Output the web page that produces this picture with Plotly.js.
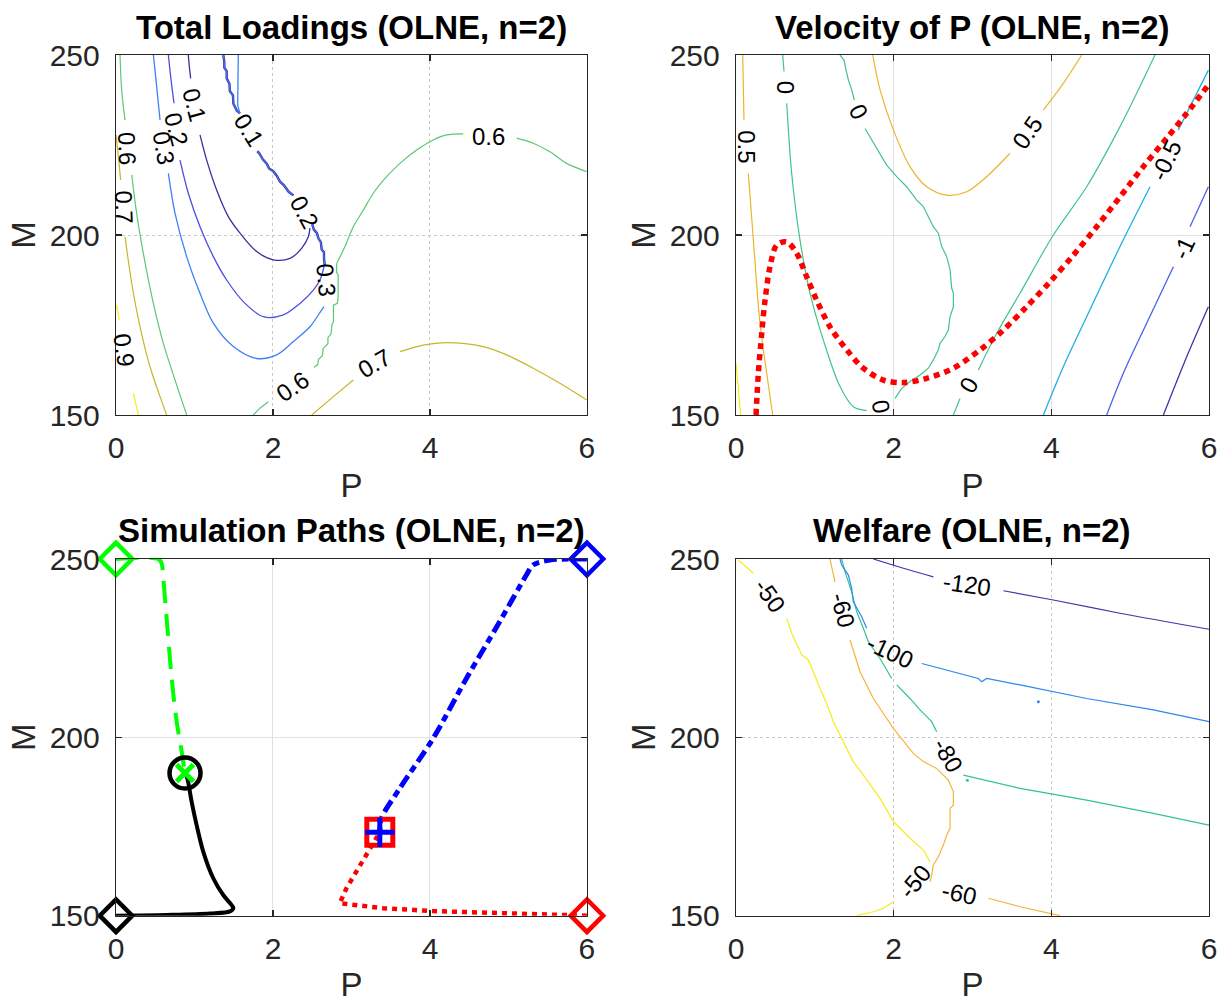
<!DOCTYPE html>
<html><head><meta charset="utf-8">
<script src="https://cdn.plot.ly/plotly-3.0.1.min.js"></script>
<style>html,body{margin:0;padding:0;background:#fff}#chart{width:1220px;height:1003px}</style>
</head><body><div id="chart"></div>
<script>
// ---------- axes ----------
const pTicks = [0, 2, 4, 6];
const mTicks = [150, 200, 250];
const titles = ['Total Loadings (OLNE, n=2)', 'Velocity of P (OLNE, n=2)', 'Simulation Paths (OLNE, n=2)', 'Welfare (OLNE, n=2)'];

// ---------- Total Loadings contours (P, M) ----------
const tl01P = [0.921,0.934,0.951,null,1.070,1.155,1.282,1.431,1.580,1.792,2.004,2.217,2.365,2.450,2.471];
const tl01M = [250,246.8,243.5,null,227.8,220.8,212.5,205.1,200.5,195.4,193.1,193.5,196.3,199.5,201.9];
const tl02P = [0.667,0.701,0.739,null,0.815,0.921,1.070,1.240,1.410,1.622,1.877,2.132,2.344,2.514,2.599,2.650];
const tl02M = [250,243.1,236.6,null,220.8,211.6,202.3,194.0,187.5,181.5,177.3,177.8,181.0,184.7,187.5,191.2];
const tl03P = [0.476,0.518,0.561,null,0.667,0.752,0.900,1.070,1.240,1.495,1.792,2.047,2.259,2.471,2.620,2.650];
const tl03M = [250,241.2,231.9,null,217.1,206.0,194.0,183.8,175.5,169.0,165.7,166.7,170.4,174.5,179.2,180.1];
const tlJumpP = [1.367,1.380,1.380,1.410,1.410,1.445,1.450,1.490,1.495,1.540,1.580,null,1.800,1.830,1.870,1.920,1.950,2.000,2.050,2.090,2.140,2.200,2.260,null,2.500,2.520,2.560,2.580,2.610,2.620,2.650,2.650,2.660];
const tlJumpM = [250,248,246.5,245.5,243.5,242,240,238.8,236.5,234.5,233.8,null,223.3,222.5,221.0,219.8,218.5,217.8,216.4,214.8,213.8,212.0,211.0,null,203.0,201.5,200.5,199.0,198.0,196.0,195.2,193.5,191.5];
const tlJumpTopP = [1.558,1.553,1.550,1.580];
const tlJumpTopM = [250,243,236,233.8];
const tl06P = [0.051,0.072,0.115,null,0.200,0.263,0.348,0.476,0.603,0.752,0.900,null,5.996,5.741,5.529,5.316,5.104,null,4.425,4.212,4.042,3.830,3.618,3.448,3.278,3.151,3.023,2.917,2.811];
const tl06M = [250,240.3,231.9,null,216.7,206.0,194.9,181.0,169.9,159.7,150,null,217.6,219.9,223.1,225.5,226.9,null,228.1,227.8,226.4,223.6,219.9,216.2,211.6,206.9,202.3,196.8,192.1];
const tl06JumpP = [2.811,2.811,2.830,2.830,2.820,2.770,2.770,2.750,2.740,2.700,2.700,2.640,2.630,2.580,2.570,2.520,null,1.941,1.834,1.749];
const tl06JumpM = [192.1,189.5,189.0,183.0,181.0,180.5,176.0,175.0,172.5,171.5,169.8,168.5,166.5,165.5,164.0,163.2,null,153.7,151.9,150];
const tl07P = [0.000,0.030,0.059,null,0.115,0.200,0.306,0.433,0.561,0.645,null,5.996,5.656,5.316,4.977,4.679,4.212,3.915,3.618,null,3.023,2.769,2.493];
const tl07M = [227.8,221.8,215.3,null,199.5,186.6,174.5,163.4,155.1,150,null,154.2,158.8,163.0,166.7,169.0,170.1,169.4,167.6,null,159.7,155.1,150];
const tl09P = [0.008,0.042,null,0.221,0.285];
const tl09M = [180.6,176.4,null,156.0,150];
const tlLabText = ['0.1','0.2','0.3','0.1','0.2','0.3','0.6','0.6','0.7','0.6','0.7','0.9'];
const tlLabP = [1.006,0.773,0.611,1.686,2.395,2.684,4.752,2.251,3.287,0.144,0.102,0.102];
const tlLabM = [236.1,229.4,224.1,229.2,206.5,187.5,227.5,157.9,164.2,224.1,207.9,168.2];

// ---------- Velocity of P contours ----------
const v1P = [0,0.059];
const v1M = [164.4,150];
const v05P = [0.085,0.101,null,0.156,0.220,0.304,0.389,0.465,null,1.734,1.827,1.996,2.207,2.419,2.672,2.926,3.180,3.476,null,3.899,4.152,4.385];
const v05M = [250,231.9,null,217.1,198.6,175.5,161.6,150,null,250,240.3,229.2,219.0,213.4,211.1,212.0,216.2,222.7,null,234.7,242.1,250];
const v0P = [0.592,0.609,null,0.643,0.706,0.812,0.939,1.108,1.319,1.488,1.658,null,5.315,4.871,4.448,4.025,3.602,3.307,3.074,null,2.841,2.757];
const v0M = [250,245.4,null,236.6,217.1,198.6,183.8,170.8,157.9,152.3,151.2,null,250,230.1,213.4,200,183.8,172.7,162.5,null,154.6,150];
const v0JumpP = [1.319,1.370,1.395,1.425,1.467,1.488,1.501,null,1.636,1.700,1.742,1.827,1.911,2.038,2.165,2.292,2.376,2.440,2.503,2.567,2.609,2.672,2.715,2.736,2.757,2.757,2.715,2.693,2.651,2.588,2.567,2.503,2.440,2.334,2.207,2.101,2.017];
const v0JumpM = [250,248.6,245.8,243.1,240.3,238.9,237.5,null,229.6,227.3,225.5,222.7,219.4,216.2,213.4,209.7,207.9,205.1,202.3,200.5,196.8,194.0,190.3,185.2,183.8,180.1,177.3,173.6,171.8,169.9,168.1,165.3,163.0,161.1,159.3,157.4,154.6];
const vm05P = [5.992,5.611,null,5.252,4.871,4.448,4.152,3.899];
const vm05M = [245.8,229.2,null,213.4,196.8,177.3,163.4,150];
const vm1P = [5.992,5.759,null,5.548,5.209,4.913,4.702];
const vm1M = [213.4,202.3,null,191.2,175.5,161.6,150];
const vm15P = [5.992,5.717,5.421];
const vm15M = [180.1,166.2,150];
const vNullP = [0.254,0.283,0.326,0.368,0.431,0.516,0.643,0.770,0.896,1.023,1.192,1.404,1.615,1.869,2.123,2.419,2.757,3.095,3.391,3.687,3.983,4.279,4.575,4.871,5.167,5.463,5.717,5.992];
const vNullM = [150,161.6,172.7,181.9,191.2,197.2,198.1,194.9,188.4,181.9,174.5,168.1,163.0,159.7,159.0,160.2,163.0,168.1,173.6,180.1,187.0,194.4,202.3,210.6,219.0,226.9,233.8,241.7];
const vLabText = ['0.5','0','0','0.5','-0.5','-1','0','0'];
const vLabP = [0.135,0.622,1.552,3.696,5.450,5.674,2.947,1.835];
const vLabM = [224.5,241.2,234.3,228.4,220.8,196.3,158.3,152.3];

// ---------- Simulation paths ----------
const pathGreenP = [0,0.539,0.581,0.602,0.645,0.709,0.772,0.836,0.879];
const pathGreenM = [250,250,248.8,244.6,233.4,216.6,204.5,196.1,190.0];
const pathBlackP = [0,0.645,1.197,1.451,1.494,1.472,1.366,1.239,1.112,1.027,0.963,0.908,0.879];
const pathBlackM = [150,150.2,150.6,151.2,152.1,153.0,155.8,160.5,167.9,175.4,182.0,188.5,190.0];
const pathBlueP = [6,5.525,5.312,5.228,4.888,4.464,4.040,3.615,3.382,3.361];
const pathBlueM = [250,249.7,248.3,245.5,232.4,216.5,199.7,185.7,177.3,173.4];
const pathRedP = [6,4.888,4.040,3.403,2.851,2.936,3.106,3.276,3.361];
const pathRedM = [150,150.6,151.3,152.1,153.5,157.7,164.2,170.7,173.4];

// ---------- Welfare contours ----------
const w50P = [0.030,0.220,null,0.643,0.706,0.833,0.918,1.066,1.150,1.235,1.488,1.615,1.827,1.996,2.207,2.376,2.461,null,1.996,1.869,1.742,1.531];
const w50M = [249.7,246.0,null,233.4,229.2,223.1,221.7,213.7,209.5,204.4,193.2,189.4,182.9,176.4,171.7,168.4,165.1,null,153.9,152.1,151.1,150];
const w60P = [1.192,1.256,null,1.446,1.573,1.742,1.996,2.249,2.376,2.545,2.693,2.757,2.757,2.715,2.715,2.672,2.630,2.567,2.503,2.482,2.461,null,3.201,3.603,4.110];
const w60M = [250,243.6,null,227.3,218.4,210.9,202.5,195.5,193.2,191.3,188.0,184.8,181.0,180.1,174.5,172.6,169.8,166.5,164.2,161.4,159.5,null,154.9,152.5,150];
const w80P = [1.340,1.383,1.467,1.531,1.615,1.679,1.827,1.975,null,2.038,2.207,2.334,2.482,2.545,null,2.884,3.603,4.448,5.294,6.0];
const w80M = [250,246.4,240.8,235.2,230.6,226.8,222.1,216.5,null,214.7,210.9,207.7,204.4,201.6,null,189.4,185.7,182.4,178.7,175.4];
const w100P = [1.319,1.340,1.425,1.467,1.488,1.531,1.594,1.658,null,2.355,2.757,3.074,3.116,3.159,3.180,3.603,4.448,5.294,6.0];
const w100M = [250,248.3,245.5,241.8,238.0,236.2,233.8,230.6,null,220.7,218.4,216.5,215.6,216.1,216.5,214.7,210.9,207.7,204.4];
const w120P = [1.742,2.123,2.503,null,3.391,4.025,4.871,6.0];
const w120M = [250,247.4,245.0,null,241.1,238.5,234.8,230.3];
const wSpeckP = [3.835,2.934];
const wSpeckM = [210.0,188.0];
const wLabText = ['-50','-60','-100','-120','-80','-50','-60'];
const wLabP = [0.431,1.362,1.953,2.926,2.693,2.271,2.841];
const wLabM = [239.9,235.7,224.0,242.9,195.0,159.5,156.3];

// ================= rendering =================
const FONT = 'Liberation Sans, Arial, Helvetica, sans-serif';
const AXC = '#262626';
const xd = [[0.0951, 0.4811], [0.6033, 0.9910]];
const yd = [[0.58624, 0.94516], [0.08704, 0.44267]];

function xAxis(dom, anchor, dotted) {
  return {domain: dom, anchor: anchor, range: [0, 6], tickvals: pTicks, showline: true, mirror: 'allticks',
    linecolor: AXC, linewidth: 1.3, ticks: 'inside', ticklen: 6, tickwidth: 1.2, tickcolor: AXC,
    showgrid: true, gridcolor: dotted ? '#c8c8c8' : '#e1e1e1', griddash: dotted ? 'dot' : 'solid', gridwidth: 1,
    zeroline: false, tickfont: {family: FONT, size: 30, color: AXC}, ticklabelstandoff: 6,
    title: {text: 'P', font: {family: FONT, size: 33, color: AXC}, standoff: 10}, fixedrange: true};
}
function yAxis(dom, anchor, dotted) {
  return {domain: dom, anchor: anchor, range: [150, 250], tickvals: mTicks, showline: true, mirror: 'allticks',
    linecolor: AXC, linewidth: 1.3, ticks: 'inside', ticklen: 6, tickwidth: 1.2, tickcolor: AXC,
    showgrid: true, gridcolor: dotted ? '#c8c8c8' : '#e1e1e1', griddash: dotted ? 'dot' : 'solid', gridwidth: 1,
    zeroline: false, tickfont: {family: FONT, size: 30, color: AXC}, ticklabelstandoff: 9,
    title: {text: 'M', font: {family: FONT, size: 33, color: AXC}, standoff: 4}, fixedrange: true};
}

const traces = [];
function ln(x, y, color, width, ax, opts) {
  opts = opts || {};
  traces.push({type: 'scatter', mode: 'lines', x: x, y: y, xaxis: 'x' + ax, yaxis: 'y' + ax,
    line: {color: color, width: width, shape: opts.shape || 'spline', smoothing: 0.9, dash: opts.dash || 'solid'},
    connectgaps: false, hoverinfo: 'skip', showlegend: false});
}
function mk(x, y, symbol, size, color, lw, ax) {
  traces.push({type: 'scatter', mode: 'markers', x: x, y: y, xaxis: 'x' + ax, yaxis: 'y' + ax, cliponaxis: false,
    marker: {symbol: symbol, size: size, color: color, line: {color: color, width: lw}},
    hoverinfo: 'skip', showlegend: false});
}

// Plot 1: Total Loadings
ln(tl09P, tl09M, '#f7ee1c', 1.2, '');
ln(tl07P, tl07M, '#c9b42c', 1.2, '');
ln(tl06P, tl06M, '#5cc873', 1.2, '');
ln(tl06JumpP, tl06JumpM, '#5cc873', 1.2, '', {shape: 'linear'});
ln(tl03P, tl03M, '#3c82f5', 1.3, '');
ln(tl02P, tl02M, '#4b4fe0', 1.3, '');
ln(tl01P, tl01M, '#3d2ea0', 1.3, '');
ln(tlJumpP, tlJumpM, '#3d2ea0', 2.4, '', {shape: 'linear'});
ln(tlJumpP, tlJumpM, '#3f74f3', 1.2, '', {shape: 'linear'});
ln(tlJumpTopP, tlJumpTopM, '#3c82f5', 1.3, '', {shape: 'linear'});

// Plot 2: Velocity of P
ln(v1P, v1M, '#f4ef12', 1.2, '2');
ln(v05P, v05M, '#ebb52f', 1.2, '2');
ln(v0P, v0M, '#40c48a', 1.2, '2');
ln(v0JumpP, v0JumpM, '#40c48a', 1.2, '2', {shape: 'linear'});
ln(vm05P, vm05M, '#1fb0e2', 1.3, '2');
ln(vm1P, vm1M, '#4a60ef', 1.3, '2');
ln(vm15P, vm15M, '#4231a8', 1.3, '2');
ln(vNullP, vNullM, '#ff0000', 5.5, '2', {dash: '6px,5px'});

// Plot 3: Simulation paths
ln(pathGreenP, pathGreenM, '#00ff00', 4, '3', {dash: '22px,11px'});
ln(pathBlackP, pathBlackM, '#000000', 4, '3');
ln(pathBlueP, pathBlueM, '#0000ff', 5, '3', {dash: '13px,5px,7px,5px'});
ln(pathRedP, pathRedM, '#ff0000', 4.5, '3', {dash: '5px,5px', shape: 'linear'});
const L = a => a[a.length - 1];
mk([pathGreenP[0]], [pathGreenM[0]], 'diamond-open', 25, '#00ff00', 4.5, '3');
mk([pathBlackP[0]], [pathBlackM[0]], 'diamond-open', 25, '#000000', 4.5, '3');
mk([pathBlueP[0]], [pathBlueM[0]], 'diamond-open', 25, '#0000ff', 4.5, '3');
mk([pathRedP[0]], [pathRedM[0]], 'diamond-open', 25, '#ff0000', 4.5, '3');
mk([L(pathBlackP)], [L(pathBlackM)], 'circle-open', 31, '#000000', 4.5, '3');
mk([L(pathGreenP)], [L(pathGreenM)], 'x-thin-open', 17, '#00ff00', 5, '3');
mk([L(pathRedP)], [L(pathRedM)], 'square-open', 26, '#ff0000', 5, '3');
mk([L(pathBlueP)], [L(pathBlueM)], 'cross-thin-open', 21, '#0000ff', 5, '3');

// Plot 4: Welfare
ln(w50P, w50M, '#f7ec1a', 1.2, '4', {shape: 'linear'});
ln(w60P, w60M, '#f5b53a', 1.2, '4', {shape: 'linear'});
ln(w80P, w80M, '#35c28e', 1.2, '4', {shape: 'linear'});
ln(w100P, w100M, '#2a88f0', 1.2, '4', {shape: 'linear'});
ln(w120P, w120M, '#4534a8', 1.2, '4');
traces.push({type: 'scatter', mode: 'markers', x: wSpeckP, y: wSpeckM, xaxis: 'x4', yaxis: 'y4',
  marker: {size: 3, color: ['#2a88f0', '#35c28e']}, hoverinfo: 'skip', showlegend: false});

// annotations
const ann = [];
const titleX = [0.2881, 0.7971, 0.2881, 0.7971];
const titleY = [0.9721, 0.9721, 0.4706, 0.4706];
titles.forEach((t, i) => ann.push({text: '<b>' + t + '</b>', xref: 'paper', yref: 'paper', x: titleX[i], y: titleY[i],
  xanchor: 'center', yanchor: 'middle', showarrow: false, font: {family: FONT, size: 33, color: '#000'}}));
function labels(txt, xs, ys, angles, ax) {
  txt.forEach((t, i) => ann.push({text: t, x: xs[i], y: ys[i], xref: 'x' + ax, yref: 'y' + ax, showarrow: false,
    textangle: angles[i], xanchor: 'center', yanchor: 'middle', font: {family: FONT, size: 24, color: '#000'}}));
}
labels(tlLabText, tlLabP, tlLabM, [75, 75, 80, 58, 62, 85, 0, -35, -30, 88, 88, 82], '');
labels(vLabText, vLabP, vLabM, [90, 90, 62, -55, -65, -65, -60, 80], '2');
labels(wLabText, wLabP, wLabM, [55, 75, 25, 8, 60, -50, 12], '4');

const layout = {
  width: 1220, height: 1003, margin: {l: 0, r: 0, t: 0, b: 0}, paper_bgcolor: '#fff', plot_bgcolor: '#fff',
  showlegend: false, font: {family: FONT},
  xaxis: xAxis(xd[0], 'y', true), yaxis: yAxis(yd[0], 'x', true),
  xaxis2: xAxis(xd[1], 'y2', false), yaxis2: yAxis(yd[0], 'x2', false),
  xaxis3: xAxis(xd[0], 'y3', false), yaxis3: yAxis(yd[1], 'x3', false),
  xaxis4: xAxis(xd[1], 'y4', true), yaxis4: yAxis(yd[1], 'x4', true),
  annotations: ann
};
Plotly.newPlot('chart', traces, layout, {staticPlot: true, displayModeBar: false});
</script></body></html>
